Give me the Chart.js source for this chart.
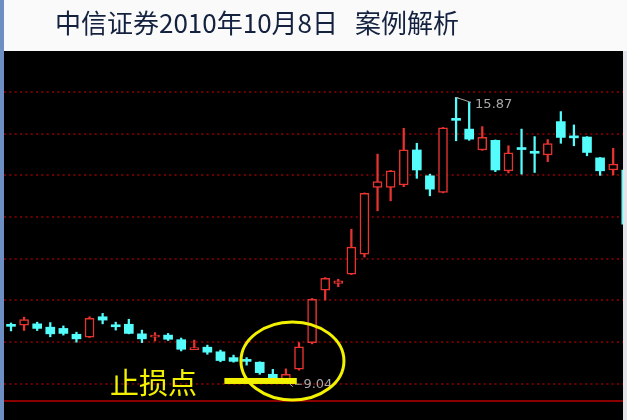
<!DOCTYPE html>
<html>
<head>
<meta charset="utf-8">
<title>中信证券2010年10月8日案例解析</title>
<script src="https://cdn.jsdelivr.net/npm/chart.js@4.4.0/dist/chart.umd.min.js"></script>
<style>
  html, body { margin: 0; padding: 0; background: #fafafa; overflow: hidden; }
  #kline { display: block; }
</style>
</head>
<body>
<canvas id="kline" width="627" height="420"></canvas>
<script>
// daily candles (left to right)
var opens  = [10.40, 10.41, 10.44, 10.36, 10.33, 10.19, 10.12, 10.61, 10.41, 10.43,
              10.20, 10.12, 10.17, 10.06, 9.82, 9.88, 9.77, 9.63, 9.56, 9.52,
              9.23, 9.05, 9.35, 9.99, 11.25, 11.41, 11.63, 12.11, 13.71, 13.71,
              13.77, 14.61, 13.99, 13.59, 15.34, 15.11, 14.61, 14.84, 14.11, 14.64,
              14.56, 14.49, 15.29, 14.92, 14.92, 14.42, 14.13, 14.13];
var highs  = [10.46, 10.60, 10.48, 10.47, 10.39, 10.24, 10.61, 10.69, 10.48, 10.55,
              10.29, 10.23, 10.21, 10.10, 10.05, 9.93, 9.81, 9.69, 9.63, 9.53,
              9.35, 9.36, 9.99, 11.05, 11.55, 11.51, 12.71, 13.58, 14.51, 14.12,
              15.13, 14.77, 14.03, 15.15, 15.87, 15.75, 15.17, 14.85, 14.71, 15.11,
              14.93, 14.86, 15.53, 15.21, 14.93, 14.43, 14.65, 14.15];
var lows   = [10.27, 10.28, 10.28, 10.13, 10.17, 10.00, 10.11, 10.44, 10.29, 10.20,
              9.99, 10.03, 10.04, 9.79, 9.82, 9.71, 9.53, 9.52, 9.45, 9.23,
              9.09, 9.04, 9.33, 9.96, 11.01, 11.33, 11.62, 12.04, 13.15, 13.39,
              13.73, 13.93, 13.51, 13.58, 14.83, 14.84, 14.60, 14.09, 14.06, 14.03,
              14.07, 14.33, 14.77, 14.71, 14.47, 14.00, 14.01, 12.80];
var closes = [10.38, 10.54, 10.33, 10.20, 10.21, 10.08, 10.57, 10.53, 10.37, 10.21,
              10.08, 10.14, 10.07, 9.83, 9.84, 9.76, 9.56, 9.54, 9.54, 9.27,
              9.13, 9.23, 9.89, 11.03, 11.53, 11.47, 12.28, 13.57, 13.85, 14.11,
              14.61, 14.13, 13.67, 15.14, 15.32, 14.87, 14.91, 14.13, 14.54, 14.62,
              14.53, 14.76, 14.91, 14.90, 14.55, 14.11, 14.27, 12.83];

var priceTicks = [9, 10, 11, 12, 13, 14, 15, 16];
var stopLossPrice = 9.07;   // the yellow 止损点 bar
var dividerPrice = 8.6;     // solid line above the volume pane

var UP = '#e8332f';
var DOWN = '#54fcfc';

function isUp(i) { return closes[i] >= opens[i]; }

var bodies = opens.map(function(o, i) { return { x: i, y: [o, closes[i]] }; });
var wicks = lows.map(function(l, i) { return { x: i, y: [l, highs[i]] }; });

var backdrop = {
  id: 'backdrop',
  beforeDraw: function(chart) {
    var ctx = chart.ctx, a = chart.chartArea;
    ctx.save();
    ctx.fillStyle = '#fafafa';
    ctx.fillRect(0, 0, chart.width, chart.height);
    ctx.fillStyle = '#000';
    ctx.fillRect(a.left, a.top, a.right - a.left, chart.height - a.top);
    // slide edges
    ctx.fillStyle = '#6e8fc4';
    ctx.fillRect(0, 0, a.left, chart.height);
    ctx.fillStyle = '#e2e4ea';
    ctx.fillRect(a.right, a.top, chart.width - a.right, chart.height - a.top);
    // title
    ctx.fillStyle = '#14223f';
    ctx.font = '26px "Noto Sans CJK SC"';
    ctx.textBaseline = 'alphabetic';
    ctx.fillText('中信证券2010年10月8日', 55, 33);
    ctx.fillText('案例解析', 355, 33);
    ctx.restore();
  },
  beforeDatasetsDraw: function(chart) {
    var ctx = chart.ctx, a = chart.chartArea;
    var y = Math.round(chart.scales.y.getPixelForValue(dividerPrice));
    ctx.save();
    ctx.strokeStyle = '#8a0000';
    ctx.lineWidth = 2;
    ctx.beginPath();
    ctx.moveTo(a.left, y);
    ctx.lineTo(a.right, y);
    ctx.stroke();
    ctx.restore();
  },
  afterDatasetsDraw: function(chart) {
    var ctx = chart.ctx, xs = chart.scales.x, ys = chart.scales.y;
    var hi = highs.indexOf(Math.max.apply(null, highs));
    var lo = lows.indexOf(Math.min.apply(null, lows));
    var hx = xs.getPixelForValue(hi), hy = ys.getPixelForValue(highs[hi]);
    var lx = xs.getPixelForValue(lo), ly = ys.getPixelForValue(lows[lo]);

    ctx.save();
    ctx.strokeStyle = '#a8a8a8';
    ctx.fillStyle = '#a8a8a8';
    ctx.lineWidth = 1;
    ctx.font = '13px "DejaVu Sans"';
    ctx.textBaseline = 'middle';
    // max label
    ctx.beginPath();
    ctx.moveTo(hx + 3, hy + 1);
    ctx.lineTo(hx, hy);
    ctx.lineTo(hx + 15, hy + 5);
    ctx.stroke();
    ctx.fillText(highs[hi].toFixed(2), hx + 19, hy + 7.5);
    // min label
    ctx.beginPath();
    ctx.moveTo(lx + 7, ly - 0.5);
    ctx.lineTo(lx + 4, ly + 2);
    ctx.lineTo(lx + 7, ly + 4.5);
    ctx.moveTo(lx + 9, ly + 2);
    ctx.lineTo(lx + 16, ly + 2);
    ctx.stroke();
    ctx.fillText(lows[lo].toFixed(2), lx + 17.5, ly + 2.5);

    // stop-loss marking
    ctx.strokeStyle = '#f2f200';
    ctx.fillStyle = '#f2f200';
    ctx.lineWidth = 3;
    ctx.beginPath();
    ctx.ellipse(xs.getPixelForValue(21.5), ys.getPixelForValue(9.55), 51.5, 39, 0, 0, Math.PI * 2);
    ctx.stroke();
    var bx0 = xs.getPixelForValue(16.3), bx1 = xs.getPixelForValue(21.83);
    var by = ys.getPixelForValue(stopLossPrice);
    ctx.fillRect(bx0, by - 3, bx1 - bx0, 6);
    ctx.font = '29px "Noto Sans CJK SC"';
    ctx.textBaseline = 'alphabetic';
    ctx.fillText('止损点', xs.getPixelForValue(7.56), ys.getPixelForValue(8.76));
    ctx.restore();
  }
};

new Chart(document.getElementById('kline'), {
  type: 'bar',
  data: {
    datasets: [{
      label: 'body',
      data: bodies,
      order: 0,
      grouped: false,
      clip: 0,
      barThickness: 9,
      minBarLength: 2,
      borderSkipped: false,
      backgroundColor: function(c) { return isUp(c.dataIndex) ? '#000' : DOWN; },
      borderColor: function(c) { return isUp(c.dataIndex) ? UP : DOWN; },
      borderWidth: function(c) { return isUp(c.dataIndex) ? 1.5 : 0; }
    }, {
      label: 'wick',
      data: wicks,
      order: 1,
      grouped: false,
      clip: 0,
      barThickness: 1.6,
      borderWidth: 0,
      backgroundColor: function(c) { return isUp(c.dataIndex) ? UP : DOWN; }
    }]
  },
  options: {
    responsive: false,
    devicePixelRatio: 1,
    animation: false,
    layout: { padding: { top: 51, left: 4, right: 4, bottom: 0 } },
    plugins: {
      legend: { display: false },
      tooltip: { enabled: false }
    },
    scales: {
      x: { type: 'linear', min: -0.535, max: 46.75, offset: false, display: false },
      y: {
        min: 8.134,
        max: 16.983,
        beginAtZero: false,
        afterBuildTicks: function(s) { s.ticks = priceTicks.map(function(v) { return { value: v }; }); },
        afterFit: function(s) { s.width = 0; },
        ticks: { display: false },
        grid: { color: '#6e0000', lineWidth: 2, drawTicks: false },
        border: { display: false, dash: [2, 3.33] }
      }
    }
  },
  plugins: [backdrop]
});
</script>
</body>
</html>
